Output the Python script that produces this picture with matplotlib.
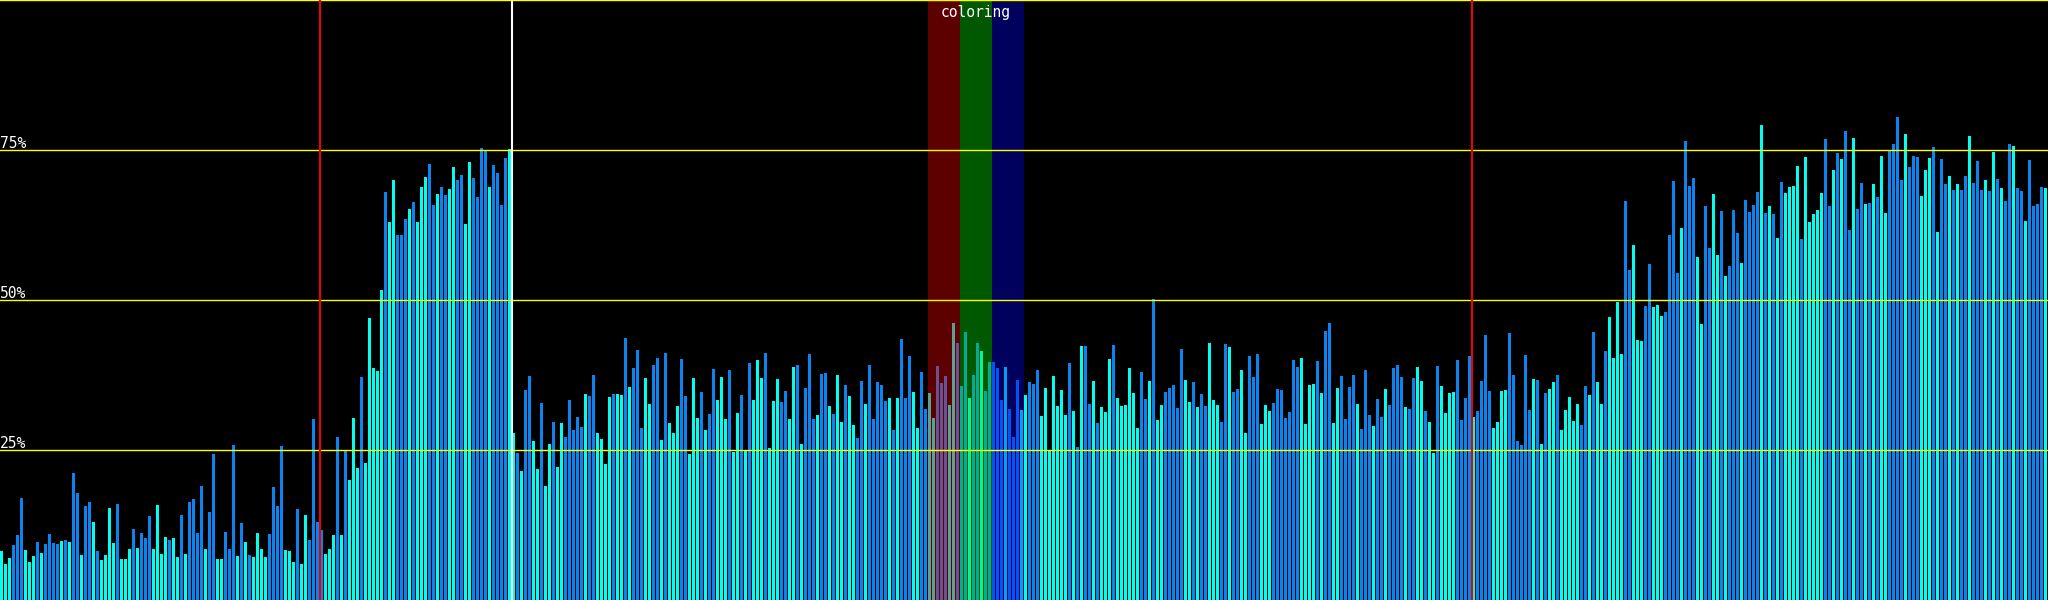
import numpy as np
import matplotlib
matplotlib.use("Agg")
import matplotlib.pyplot as plt

# bar heights in percent, one bar per sample
idle_pct = [8.2, 6.0, 7.0, 9.2, 10.8, 17.0, 8.3, 6.3, 7.3, 9.7, 7.8, 9.3, 11.0, 9.5, 9.3, 9.8,
            10.0, 9.7, 21.2, 17.8, 7.5, 15.7, 16.3, 13.0, 8.2, 6.7, 7.5, 15.3, 9.5, 16.0, 6.8, 6.8,
            8.5, 11.8, 8.7, 11.2, 10.3, 14.0, 8.5, 15.8, 7.7, 10.5, 10.0, 10.3, 7.2, 14.2, 7.7, 16.3,
            16.8, 11.2, 19.0, 8.5, 14.7, 24.3, 6.8, 6.8, 11.3, 8.5, 25.8, 7.3, 12.8, 9.7, 7.5, 7.2,
            11.2, 8.5, 7.2, 11.0, 18.8, 15.7, 25.7, 8.3, 8.2, 6.3, 15.2, 6.0, 14.2, 10.0, 30.2, 13.0]
burst_pct = [11.7, 7.7, 8.5, 10.8, 27.2, 10.8, 24.8, 20.0, 30.3, 22.0, 37.2, 22.8, 47.0, 38.7, 38.2, 51.7,
             68.0, 63.0, 70.0, 60.8, 60.8, 63.5, 65.2, 66.3, 63.0, 68.8, 70.5, 72.7, 65.8, 67.7, 68.8, 67.5,
             68.5, 72.2, 70.0, 70.8, 62.7, 73.0, 70.3, 67.2, 75.3, 75.0, 68.8, 72.5, 71.2, 65.8, 73.7, 75.2]
steady_pct = [27.8, 24.5, 21.5, 35.0, 37.3, 26.5, 21.8, 32.8, 19.0, 26.0, 29.7, 22.2, 29.5, 27.2, 33.3, 28.3,
              30.5, 28.8, 34.3, 34.0, 37.5, 27.8, 26.8, 22.7, 33.8, 34.3, 34.3, 34.2, 43.7, 35.5, 38.7, 41.7,
              28.7, 37.0, 32.7, 39.2, 40.3, 26.7, 41.2, 29.5, 27.8, 32.3, 40.2, 34.0, 24.3, 37.0, 30.3, 34.7,
              28.3, 31.0, 38.5, 33.3, 37.2, 30.2, 38.3, 24.7, 31.2, 34.2, 25.0, 39.5, 33.3, 40.0, 37.0, 41.2,
              25.3, 33.2, 36.8, 33.0, 34.8, 30.2, 38.8, 39.2, 26.0, 35.3, 41.0, 30.2, 30.8, 37.7, 37.8, 32.3,
              31.0, 37.5, 29.7, 35.8, 34.0, 29.2, 27.0, 36.5, 32.7, 39.2, 30.2, 36.3, 35.8, 33.2, 33.7, 28.3,
              33.7, 43.5, 33.7, 40.7, 34.7, 28.7, 38.0, 31.8, 34.5, 30.3, 39.0, 36.2, 37.3, 32.5, 46.2, 42.8,
              35.7, 44.7, 33.7, 37.5, 42.8, 41.5, 34.8, 39.7, 39.7, 38.7, 33.3, 38.8, 31.8, 27.2, 36.7, 31.7,
              34.2, 36.3, 36.0, 38.3, 30.7, 35.3, 25.0, 37.3, 32.3, 35.0, 30.8, 39.5, 31.5, 25.5, 42.3, 42.3,
              32.7, 36.5, 29.5, 32.2, 31.3, 40.2, 42.5, 33.7, 32.3, 32.5, 38.7, 34.5, 28.7, 38.0, 33.5, 36.5,
              50.2, 30.0, 32.5, 34.7, 35.3, 35.8, 32.0, 41.8, 36.7, 33.0, 36.3, 32.2, 34.3, 32.3, 42.8, 33.3,
              32.5, 29.7, 42.7, 42.2, 34.7, 35.2, 38.3, 27.8, 40.7, 37.2, 41.0, 29.3, 32.5, 31.5, 32.8, 35.2,
              35.0, 30.3, 31.3, 40.0, 38.8, 40.3, 29.3, 35.8, 36.0, 39.8, 34.5, 44.8, 46.2, 29.5, 35.3, 37.3,
              30.2, 35.5, 37.5, 32.7, 28.5, 38.3, 30.8, 29.0, 33.5, 30.5, 35.2, 32.5, 38.7, 39.2, 37.2, 32.2,
              31.8, 37.0, 38.8, 36.5, 31.5, 29.7, 24.5, 39.0, 35.7, 31.2, 34.5, 34.7, 40.0, 30.0, 33.7, 40.7]
load_pct = [30.5, 31.5, 36.5, 44.2, 34.8, 28.7, 29.7, 34.8, 35.0, 44.5, 37.5, 26.5, 25.8, 40.8, 31.7, 36.8,
            36.7, 26.0, 34.5, 35.2, 36.3, 37.5, 28.3, 31.7, 33.8, 29.8, 32.7, 29.2, 35.7, 34.2, 44.7, 36.3,
            32.7, 41.5, 47.2, 40.3, 49.7, 41.0, 66.5, 55.0, 59.2, 43.3, 43.2, 49.0, 56.0, 48.8, 49.2, 47.3,
            48.0, 60.8, 69.8, 54.5, 62.0, 76.5, 69.0, 70.3, 57.2, 46.0, 65.7, 58.7, 67.7, 57.5, 64.8, 54.0,
            55.7, 65.0, 61.2, 56.2, 66.7, 64.7, 65.8, 68.0, 79.2, 64.5, 65.7, 64.3, 60.3, 69.7, 67.8, 68.8,
            69.0, 72.3, 60.2, 73.8, 63.0, 64.3, 65.0, 67.8, 76.8, 65.7, 71.7, 74.5, 73.5, 78.2, 61.7, 77.0,
            65.2, 69.5, 66.0, 66.2, 69.3, 67.2, 74.0, 64.5, 74.8, 76.0, 80.5, 70.0, 77.7, 72.2, 74.0, 73.8,
            67.3, 71.7, 73.7, 75.5, 61.3, 73.5, 69.3, 70.7, 68.3, 69.3, 68.3, 70.7, 77.3, 69.5, 73.2, 68.3,
            70.0, 68.2, 74.7, 70.2, 68.7, 66.5, 76.0, 75.7, 68.7, 68.2, 63.2, 73.3, 65.7, 66.0, 68.8, 68.7]

# b = blue bar, c = cyan bar
idle_tone = ("cccbbbcccbcbbbbc" "bcbbcbbcbccccbcc" "cbcbbbccccbccbcb"
             "bbbcbbccbbbcbcbc" "cccbbbbcccbccbbb")
burst_tone = "bcccbcbcccbccccc" "bccbbbcbcccbbcbb" "ccbbccbbbbcbbbbc"
steady_tone = ("cbcbbccbccbccbbb" "bbcbbccccbccbcbb" "bccbbcbcccbbcccb"
               "cbbcccbccbcbcccb" "cccbbccbcbbbcbbc" "bccbccbbcbbbbbcb"
               "cbbbccbbccbbbccb" "bbcbbcbbbbbcbbbc" "cbbbcccccccbcbcb"
               "bcbcccbccccccbbc" "bccbbbbbccbcbbcc" "cbbcbbccbbbcccbb"
               "bbbbbccccbcbbccb" "bbbcbbbcbbcbbbbc" "bbccbccbccccbbbb")
load_tone = ("cbbbbccccbbbbbbc" "bcbccbcccccbbcbc" "cbccccbbcccbbccc"
             "bbbbcbbbccbbccbc" "bbbcbbbbcbcbcbcc" "ccbcccccbbcbcbbc"
             "bbcbcbccbbbbcbbb" "cccbcbbcbcbbcbbb" "cbcbcbbcbbcbbbbc")

grid_pct = [25, 50, 75, 100]
grid_labels = ["25%", "50%", "75%", ""]
red_marks = [80, 368]
white_marks = [128]
bands = [(232, 240), (240, 248), (248, 256)]
band_colors = ["#ff0000", "#00f000", "#0000ff"]
band_label = "coloring"

BLUE = "#0a84ee"
CYAN = "#00ffee"
mono = "DejaVu Sans Mono"

pct = idle_pct + burst_pct + steady_pct + load_pct
tones = idle_tone + burst_tone + steady_tone + load_tone

fig = plt.figure(figsize=(20.48, 6), dpi=100, facecolor="black")
ax = fig.add_axes([0, 0, 1, 1])
ax.set_facecolor("black")

x = np.arange(len(pct))
cols = [BLUE if t == "b" else CYAN for t in tones]
ax.bar(x, pct, width=0.75, align="edge", color=cols, linewidth=0, antialiased=False, zorder=2)

for (a, b), c in zip(bands, band_colors):
    ax.axvspan(a, b, color=c, alpha=0.37, lw=0, zorder=3)
ax.text((bands[0][0] + bands[-1][1]) / 2, 99.2, band_label, color="white", family=mono,
        fontsize=10.5, ha="center", va="top", zorder=6)

for g, lab in zip(grid_pct, grid_labels):
    ax.axhline(min(g, 99.92), color="#ffff00", lw=1.0, zorder=4)
    if lab:
        ax.text(0.0, g + 0.3, lab, color="white", family=mono, fontsize=10.5,
                ha="left", va="baseline", zorder=6)

for m in red_marks:
    ax.axvline(m, color="#f00000", lw=1.5, zorder=5)
for m in white_marks:
    ax.axvline(m, color="white", lw=1.5, zorder=5)

ax.set_xlim(0, len(pct))
ax.set_ylim(0, 100)
ax.axis("off")

fig.savefig("out.png", dpi=100, facecolor="black")
